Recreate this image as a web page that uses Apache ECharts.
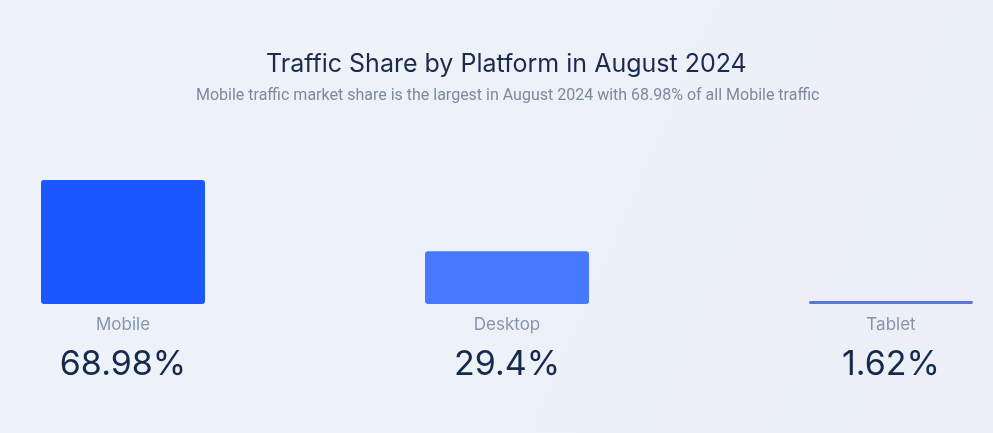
<!DOCTYPE html>
<html><head><meta charset="utf-8">
<script src="https://cdn.jsdelivr.net/npm/echarts@6/dist/echarts.min.js"></script>
<style>html,body{margin:0;padding:0;background:#edf1f8;}#c{width:993px;height:433px;}</style>
</head><body><div id="c"></div>
<script>
const categories = ['Mobile', 'Desktop', 'Tablet'];
const shares = [68.98, 29.4, 1.62];
const valueLabels = ['68.98%', '29.4%', '1.62%'];
const barColors = ['#1a57ff', '#4679ff', '#5b78d6'];

const chart = echarts.init(document.getElementById('c'));
chart.setOption({
  backgroundColor: {type:'linear', x:0, y:0, x2:1, y2:1, colorStops:[{offset:0,color:'#eef2f9'},{offset:1,color:'#eceff6'}]},
  title: [{
    text: 'Traffic Share by Platform in August 2024',
    left: 261, top: 47,
    textStyle: {fontFamily: 'Inter', fontWeight: 400, fontSize: 25, color: '#1c2b4b'}
  }, {
    text: 'Mobile traffic market share is the largest in August 2024 with 68.98% of all Mobile traffic',
    left: 191, top: 83,
    textStyle: {fontFamily: 'Roboto', fontWeight: 400, fontSize: 16, color: '#7b89a3'}
  }],
  grid: {left: 123, right: 102, top: 180, bottom: 129},
  xAxis: {
    type: 'category', data: categories, boundaryGap: false,
    axisLine: {show: false}, axisTick: {show: false}, splitLine: {show: false},
    axisLabel: {
      margin: 11,
      formatter: (v, i) => '{n|' + v + '}\n{v|' + valueLabels[i] + '}',
      rich: {
        n: {fontFamily: 'Inter', fontSize: 17, color: '#8594ad', lineHeight: 20},
        v: {fontFamily: 'Inter', fontSize: 34, color: '#142a4c', lineHeight: 60}
      }
    }
  },
  yAxis: {type: 'value', min: 0, max: 68.98, show: false, splitLine: {show: false}},
  series: [{
    type: 'bar', barWidth: 164,
    data: shares.map((v, i) => ({value: v, itemStyle: {color: barColors[i]}})),
    itemStyle: {borderRadius: 3}
  }]
});
</script></body></html>
